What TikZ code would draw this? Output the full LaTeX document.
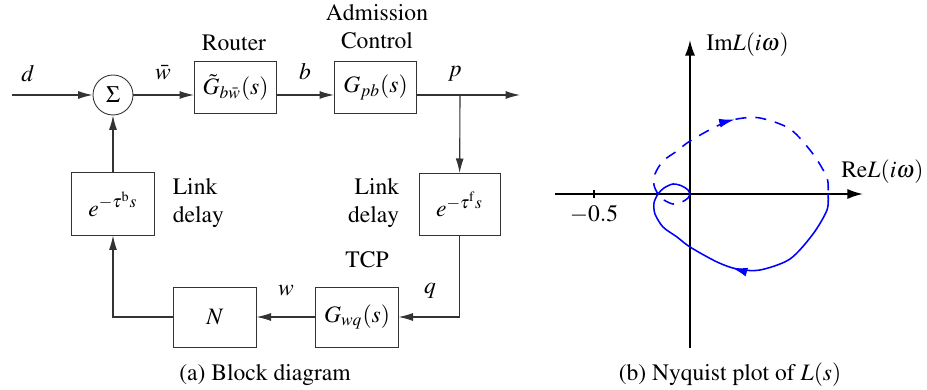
\documentclass[tikz,border=0pt]{standalone}
\usepackage[T1]{fontenc}
\usepackage{mathptmx}
\usetikzlibrary{arrows.meta, decorations.markings}

\begin{document}
\begin{tikzpicture}[x=0.45pt, y=-0.45pt, every node/.style={font=\fontsize{10.6}{12.7}\selectfont},
  block/.style={draw=black!80, inner sep=0pt, minimum width=37pt, minimum height=27pt},
  sig/.style={draw=black!80, line width=0.5pt, -{Latex[length=6.5pt,width=3.6pt]}},
  axis/.style={line width=0.8pt, -{Latex[length=7pt,width=4.5pt]}},
  nyq/.style={blue, line width=0.7pt, postaction={decorate}}]
\useasboundingbox (0,0) rectangle (927,390);
% block diagram
\node[circle, draw=black!80, minimum size=18pt, inner sep=0pt] (sum) at (113,95) {$\Sigma$};
\node[block, minimum height=23pt] (router) at (235.5,87.5) {$\tilde G_{b\bar w}(s)$};
\node[block, minimum height=23pt] (adm) at (375.5,87.5) {$G_{pb}(s)$};
\node[block, minimum width=36.5pt, minimum height=28pt] (fdelay) at (459.5,204.5) {$e^{-\tau^{\mathrm{f}}s}$};
\node[block, minimum height=28pt] (bdelay) at (113,204) {$e^{-\tau^{\mathrm{b}}s}$};
\node[block] (tcp) at (357,317) {$G_{wq}(s)$};
\node[block] (nblk) at (215,317) {$N$};
\coordinate (in) at (12,95);
\coordinate (br) at (460,95);
\coordinate (out) at (520,95);
\draw[sig] (in) -- (sum);
\draw[sig] (sum) -- (sum -| router.west);
\draw[sig] (router.east |- sum) -- (adm.west |- sum);
\draw[sig] (adm.east |- sum) -- (out);
\draw[sig] (br) -- (fdelay);
\draw[sig] (fdelay) |- (tcp);
\draw[sig] (tcp) -- (nblk);
\draw[sig] (nblk) -| (bdelay);
\draw[sig] (bdelay) -- (sum);
% labels
\node (dlbl) at (28,74) {$d$};
\node (wbar) at (163,73) {$\bar w$};
\node (blbl) at (305,72) {$b$};
\node (plbl) at (455,74) {$p$};
\node (qlbl) at (430,291) {$q$};
\node (wlbl) at (286,291) {$w$};
\node (rtr) at (234,43) {Router};
\node[align=center] (admlbl) at (377,27) {Admission\\Control};
\node[align=left, anchor=west] (bdlbl) at (165,203) {Link\\delay};
\node[align=right, anchor=east] (fdlbl) at (407,203) {Link\\delay};
\node (tcplbl) at (367,260) {TCP};
\node (capa) at (265,375) {(a) Block diagram};
% nyquist plot
\coordinate (xl) at (555,194);
\coordinate (xr) at (863,194);
\coordinate (yb) at (690,348);
\coordinate (yt) at (690,40);
\draw[axis] (xl) -- (xr);
\draw[axis] (yb) -- (yt);
\draw[line width=0.5pt] (594,190) -- (594,198);
\node (mhalf) at (594,214) {$-0.5$};
\node[anchor=west, inner sep=0pt] (imlbl) at (706,45) {$\mathrm{Im}L(i\omega)$};
\node[anchor=east, inner sep=0pt] (relbl) at (924,172) {$\mathrm{Re}L(i\omega)$};
\draw[nyq, decoration={markings, mark=at position 0.47 with {\arrow{Latex[length=7pt,width=4pt]}}}]
  plot[smooth] coordinates {(828,194) (827,210) (813,234) (790,259) (760,270) (737,269) (717,262)
  (690,247) (677,237) (663,227) (655,214) (654,203) (658,194) (664,188) (673,184) (682,186) (688,190) (690,194)};
\draw[nyq, dash pattern=on 5pt off 4pt, decoration={markings, mark=at position 0.54 with {\arrow{Latex[length=7pt,width=4pt]}}}]
  plot[smooth] coordinates {(690,194) (688,198) (682,202) (673,204) (664,200) (658,194) (654,185) (655,174)
  (663,161) (677,151) (690,141) (717,126) (737,119) (760,118) (790,129) (813,154) (827,178) (828,194)};
\node (capb) at (730,375) {(b) Nyquist plot of $L(s)$};
\end{tikzpicture}
\end{document}
